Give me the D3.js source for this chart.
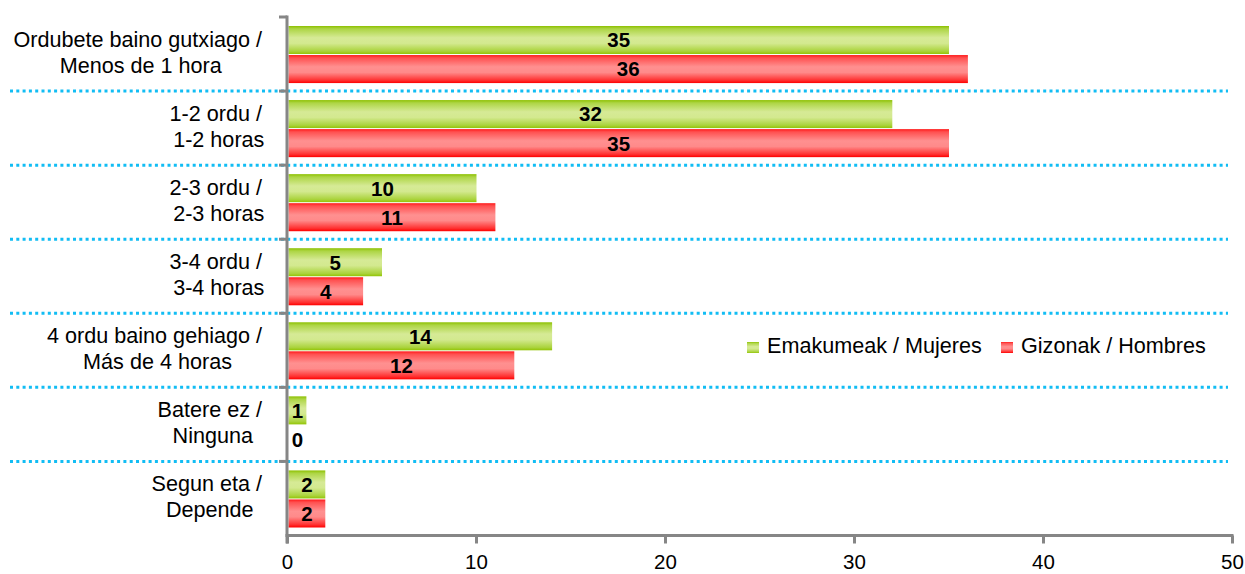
<!DOCTYPE html>
<html>
<head>
<meta charset="utf-8">
<script src="https://cdn.jsdelivr.net/npm/d3@7/dist/d3.min.js"></script>
<style>
  html, body { margin: 0; padding: 0; background: #fff; }
  svg { display: block; font-family: "Liberation Sans", Arial, sans-serif; }
</style>
</head>
<body>
<svg id="chart" width="1245" height="574"></svg>
<script>
// ---- Data ----
const categories = [
  ["Ordubete baino gutxiago /", "Menos de 1 hora"],
  ["1-2 ordu /", "1-2 horas"],
  ["2-3 ordu /", "2-3 horas"],
  ["3-4 ordu /", "3-4 horas"],
  ["4 ordu baino gehiago /", "Más de 4 horas"],
  ["Batere ez /", "Ninguna"],
  ["Segun eta /", "Depende"]
];
const seriesNames = ["Emakumeak / Mujeres", "Gizonak / Hombres"];
const women = [35, 32, 10, 5, 14, 1, 2];
const men = [36, 35, 11, 4, 12, 0, 2];
const xTicks = [0, 10, 20, 30, 40, 50];

// ---- Layout ----
const svg = d3.select("#chart");
const plotLeft = 287, plotRight = 1232, plotTop = 17, plotBottom = 535.5;
const axisColor = "#868686";
const dotColor = "#12BDF4";
const labelSize = 21.6;

const x = d3.scaleLinear().domain([0, 50]).range([plotLeft, plotRight]);
const keys = categories.map((c, i) => i);
const y = d3.scaleBand().domain(keys).range([plotTop, plotBottom]).padding(0);
const sub = d3.scaleBand().domain([0, 1]).range([9, y.bandwidth() - 8]).paddingInner(0.035).paddingOuter(0);

// gradients
const defs = svg.append("defs");
function grad(id, stops) {
  const g = defs.append("linearGradient").attr("id", id)
    .attr("x1", 0).attr("y1", 0).attr("x2", 0).attr("y2", 1);
  stops.forEach(s => g.append("stop").attr("offset", s[0]).attr("stop-color", s[1]));
}
grad("gGreen", [[0, "#8CC000"], [0.1, "#ADD544"], [0.42, "#D6EA96"], [0.62, "#D3E98F"], [0.9, "#AAD33C"], [1, "#92C405"]]);
grad("gRed", [[0, "#FF1A1A"], [0.1, "#FF5050"], [0.42, "#FF9090"], [0.62, "#FF8A8A"], [0.9, "#FF3030"], [1, "#FF0000"]]);
const fills = ["url(#gGreen)", "url(#gRed)"];

// dotted separators
const seps = keys.slice(1).map(k => y(k));
svg.append("g").selectAll("line").data(seps).join("line")
  .attr("x1", 10).attr("x2", 1228)
  .attr("y1", d => d).attr("y2", d => d)
  .attr("stroke", dotColor).attr("stroke-width", 3)
  .attr("stroke-dasharray", "3,3.3");

// bars
const rows = [];
keys.forEach(k => {
  rows.push({ k, s: 0, v: women[k] });
  rows.push({ k, s: 1, v: men[k] });
});
svg.append("g").selectAll("rect").data(rows.filter(d => d.v > 0)).join("rect")
  .attr("x", x(0) + 1.5)
  .attr("y", d => y(d.k) + sub(d.s))
  .attr("width", d => x(d.v) - x(0) - 1)
  .attr("height", sub.bandwidth())
  .attr("fill", d => fills[d.s]);

// value labels
svg.append("g").selectAll("text").data(rows).join("text")
  .attr("x", d => x(0) + 1 + Math.max(x(d.v) - x(0), x(1) - x(0)) / 2)
  .attr("y", d => y(d.k) + sub(d.s) + sub.bandwidth() / 2)
  .attr("dy", "0.36em")
  .attr("text-anchor", "middle")
  .attr("font-size", 20.5).attr("font-weight", "bold").attr("fill", "#000")
  .text(d => d.v);

// axes
const xAxis = d3.axisBottom(x).tickValues(xTicks).tickSize(8).tickPadding(11).tickFormat(d3.format("d"));
const gx = svg.append("g").attr("transform", `translate(0,${plotBottom})`).call(xAxis);
gx.select(".domain").attr("stroke", axisColor).attr("stroke-width", 3)
  .attr("d", `M${plotLeft - 1.5},0H${plotRight + 1.5}`);
gx.selectAll(".tick line").attr("stroke", axisColor).attr("stroke-width", 3);
gx.selectAll(".tick text").attr("font-size", 20.5).attr("fill", "#000")
  .attr("font-family", "Liberation Sans, Arial, sans-serif");

// vertical axis
const yAxisG = svg.append("g");
yAxisG.append("line").attr("x1", plotLeft).attr("x2", plotLeft)
  .attr("y1", plotTop - 1.5).attr("y2", plotBottom + 8)
  .attr("stroke", axisColor).attr("stroke-width", 3);
const yTickPos = [plotTop].concat(seps);
yAxisG.selectAll(".yt").data(yTickPos).join("line").attr("class", "yt")
  .attr("x1", plotLeft - 8).attr("x2", plotLeft)
  .attr("y1", d => d).attr("y2", d => d)
  .attr("stroke", axisColor).attr("stroke-width", 3);

// category labels
const labG = svg.append("g").attr("font-size", labelSize).attr("fill", "#000");
const rightEdge = 268;
keys.forEach(k => {
  const lines = categories[k];
  const cy = y(k) + y.bandwidth() / 2;
  const tmp = labG.append("g");
  const texts = lines.map((t, i) => tmp.append("text")
    .attr("y", cy - 7.5 + i * 26.5)
    .attr("text-anchor", "middle")
    .text(t));
  const space = labelSize * 0.278;
  const widths = texts.map((t, i) => t.node().getComputedTextLength() + (i === 0 ? space : 0));
  const maxW = Math.max(...widths);
  const cx = rightEdge - maxW / 2;
  texts.forEach((t, i) => t.attr("x", cx - (i === 0 ? space / 2 : 0)));
});

// legend
const leg = svg.append("g").attr("font-size", labelSize);
const legItems = [{ x: 747, name: seriesNames[0], f: fills[0] }, { x: 1001, name: seriesNames[1], f: fills[1] }];
legItems.forEach(it => {
  leg.append("rect").attr("x", it.x).attr("y", 342).attr("width", 12).attr("height", 11).attr("fill", it.f);
  leg.append("text").attr("x", it.x + 20).attr("y", 352.5).attr("fill", "#000").text(it.name);
});
</script>
</body>
</html>
